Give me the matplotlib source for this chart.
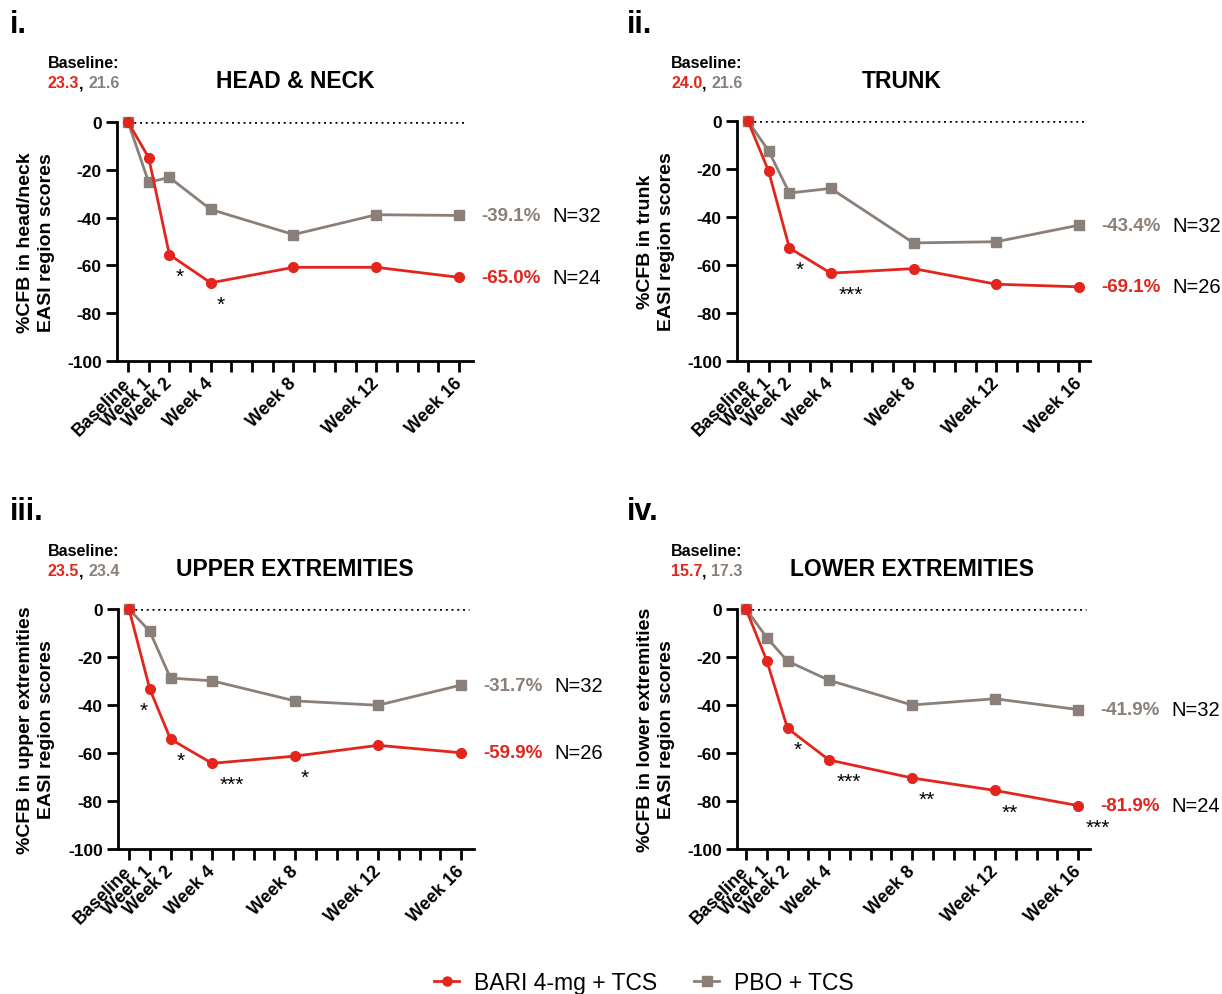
import matplotlib
matplotlib.use("Agg")
import matplotlib.pyplot as plt
from matplotlib.lines import Line2D

plt.rcParams['font.family'] = ['Liberation Sans', 'DejaVu Sans']

RED = '#E2261E'
GRAY = '#8A8079'

weeks = [0, 1, 2, 4, 8, 12, 16]
week_labels = ['Baseline', 'Week 1', 'Week 2', 'Week 4', 'Week 8', 'Week 12', 'Week 16']

panel_tags = ['i.', 'ii.', 'iii.', 'iv.']
titles = ['HEAD & NECK', 'TRUNK', 'UPPER EXTREMITIES', 'LOWER EXTREMITIES']
ylabels = ['%CFB in head/neck\nEASI region scores',
           '%CFB in trunk\nEASI region scores',
           '%CFB in upper extremities\nEASI region scores',
           '%CFB in lower extremities\nEASI region scores']
baseline_bari = ['23.3', '24.0', '23.5', '15.7']
baseline_pbo = ['21.6', '21.6', '23.4', '17.3']

bari = [
    [0, -14.9, -55.5, -67.3, -60.8, -60.8, -65.0],
    [0, -21.0, -52.9, -63.4, -61.5, -68.0, -69.1],
    [0, -33.3, -54.2, -64.3, -61.3, -56.8, -59.9],
    [0, -21.5, -49.7, -62.9, -70.4, -75.6, -81.9],
]
pbo = [
    [0, -25.2, -23.2, -36.6, -47.1, -38.8, -39.1],
    [0, -12.5, -30.0, -28.1, -50.8, -50.3, -43.4],
    [0, -9.3, -28.8, -29.9, -38.3, -40.1, -31.7],
    [0, -11.9, -21.7, -29.7, -40.0, -37.4, -41.9],
]
n_bari = [24, 26, 26, 24]
n_pbo = [32, 32, 32, 32]
# significance stars for BARI vs PBO: week -> label
stars = [
    {2: '*', 4: '*'},
    {2: '*', 4: '***'},
    {1: '*', 2: '*', 4: '***', 8: '*'},
    {2: '*', 4: '***', 8: '**', 12: '**', 16: '***'},
]

W, H = 1222, 995
fig = plt.figure(figsize=(W / 100, H / 100), dpi=100)

# pixel geometry: left, right, top, bottom of axes, x of baseline and week 16
geom = [
    (117, 473, 123, 362, 128, 459),
    (737, 1090, 122, 362, 748, 1079),
    (118, 474, 610, 850, 129, 461),
    (737, 1090, 610, 850, 746, 1078),
]
tag_pos = [(10, 25), (627, 25), (10, 512), (627, 512)]
base_pos = [(48, 64), (671, 64), (48, 552), (671, 552)]
title_pos = [(295, 82), (902, 82), (295, 570), (912, 570)]
ylab_x = [36, 656, 36, 656]

for k in range(4):
    l, r, t, b, x0p, x16p = geom[k]
    ax = fig.add_axes([l / W, 1 - b / H, (r - l) / W, (b - t) / H])
    ppw = (x16p - x0p) / 16.0
    ax.set_xlim((l - x0p) / ppw, (r - x0p) / ppw)
    ax.set_ylim(-100, 0)

    ax.hlines(0, weeks[0], weeks[-1] + 0.4, colors='black', lw=1.8,
              linestyles=(0, (0.8, 1.5)), zorder=1)
    ax.plot(weeks, pbo[k], color=GRAY, lw=2, marker='s', ms=7,
            clip_on=False, zorder=3)
    ax.plot(weeks, bari[k], color=RED, lw=2, marker='o', ms=7,
            clip_on=False, zorder=4)

    for wk, s in stars[k].items():
        y = bari[k][weeks.index(wk)]
        dx = -6 if wk == 1 else 5 + 5 * len(s)
        ax.annotate(s, (wk, y), xytext=(dx, -27), textcoords='offset pixels',
                    ha='center', va='baseline', fontsize=15)

    # end-of-line labels
    for vals, n, col in [(pbo[k], n_pbo[k], GRAY), (bari[k], n_bari[k], RED)]:
        ax.annotate(f'{vals[-1]:.1f}%', (weeks[-1], vals[-1]), xytext=(22, 0),
                    textcoords='offset pixels', ha='left', va='center',
                    fontsize=13.5, fontweight='bold', color=col,
                    annotation_clip=False)
        ax.annotate(f'N={n}', (weeks[-1], vals[-1]), xytext=(93, 0),
                    textcoords='offset pixels', ha='left', va='center',
                    fontsize=14.5, color='black', annotation_clip=False)

    for sp in ['top', 'right']:
        ax.spines[sp].set_visible(False)
    for sp in ['left', 'bottom']:
        ax.spines[sp].set_linewidth(2)

    ax.set_yticks([0, -20, -40, -60, -80, -100])
    ax.set_yticklabels(['0', '-20', '-40', '-60', '-80', '-100'],
                       fontsize=12.5, fontweight='bold')
    ax.set_xticks(range(17), minor=True)
    ax.set_xticks(weeks)
    ax.set_xticklabels(week_labels, rotation=45, ha='right', va='center',
                       rotation_mode='anchor', fontsize=13, fontweight='bold')
    ax.tick_params(axis='both', which='both', direction='out', length=8, width=2,
                   pad=3)
    ax.tick_params(axis='x', which='major', pad=6)

    # texts above the panel
    fig.text(tag_pos[k][0] / W, 1 - tag_pos[k][1] / H, panel_tags[k],
             fontsize=22, fontweight='bold', ha='left', va='center')
    fig.text(base_pos[k][0] / W, 1 - base_pos[k][1] / H, 'Baseline:',
             fontsize=11.5, fontweight='bold', ha='left', va='center')
    t1 = fig.text(base_pos[k][0] / W, 1 - (base_pos[k][1] + 20) / H, baseline_bari[k],
                  fontsize=11.5, fontweight='bold', color=RED, ha='left', va='center')
    fig.canvas.draw()
    bb = t1.get_window_extent()
    t2 = fig.text(bb.x1 / W, 1 - (base_pos[k][1] + 20) / H, ', ',
                  fontsize=11.5, fontweight='bold', color='black', ha='left', va='center')
    bb = t2.get_window_extent()
    fig.text(bb.x1 / W, 1 - (base_pos[k][1] + 20) / H, baseline_pbo[k],
             fontsize=11.5, fontweight='bold', color=GRAY, ha='left', va='center')
    fig.text(title_pos[k][0] / W, 1 - title_pos[k][1] / H, titles[k],
             fontsize=16.5, fontweight='bold', ha='center', va='center')
    fig.text(ylab_x[k] / W, 1 - (t + b) / 2 / H, ylabels[k], rotation=90,
             fontsize=14, fontweight='bold', ha='center', va='center',
             multialignment='center', linespacing=1.25)

handles = [Line2D([], [], color=RED, lw=2, marker='o', ms=6.5),
           Line2D([], [], color=GRAY, lw=2, marker='s', ms=6.5)]
fig.legend(handles, ['BARI 4-mg + TCS', 'PBO + TCS'], loc='center', ncol=2,
           bbox_to_anchor=(0.527, 1 - 984 / H), frameon=False, fontsize=16.5,
           handlelength=1.1, columnspacing=1.6, handletextpad=0.65)

fig.savefig('out.png', dpi=100)
